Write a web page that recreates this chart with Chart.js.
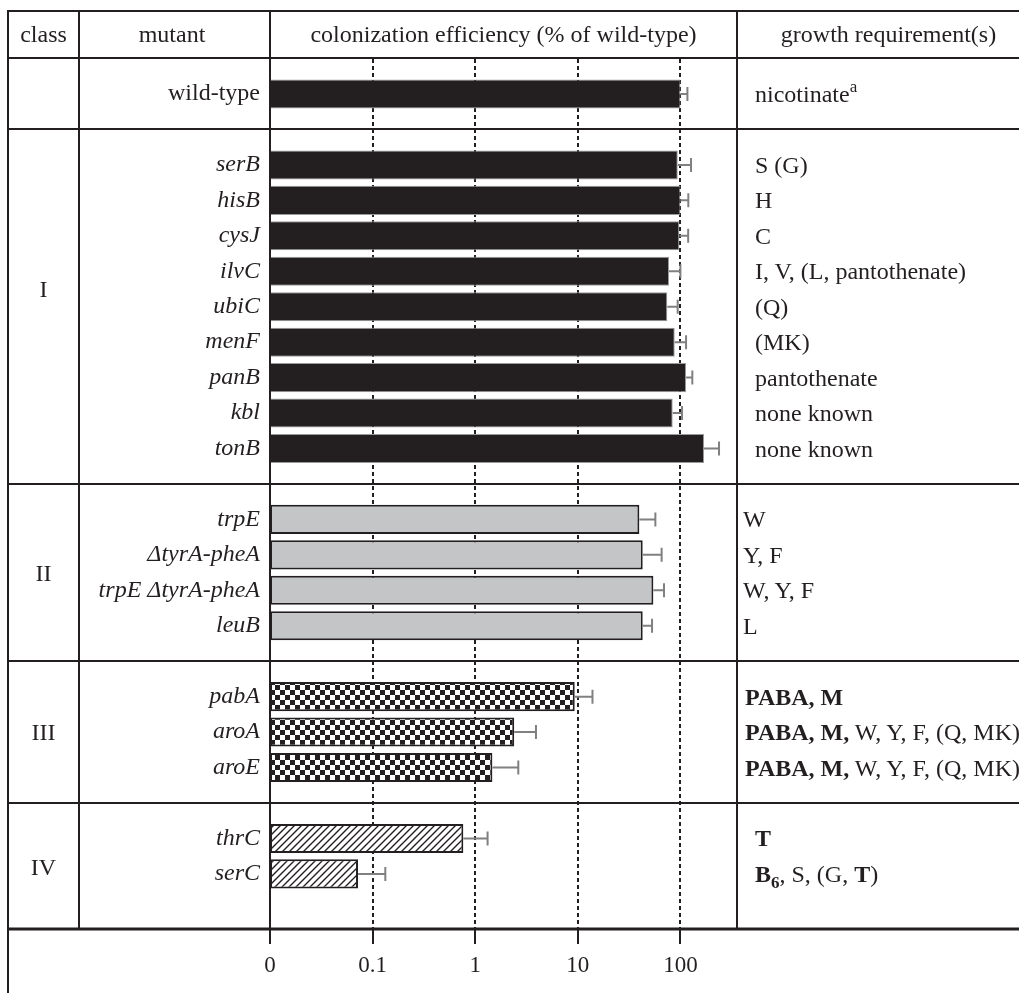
<!DOCTYPE html>
<html>
<head>
<meta charset="utf-8">
<script src="https://cdn.jsdelivr.net/npm/chart.js@4.4.1/dist/chart.umd.min.js"></script>
<style>
html,body{margin:0;padding:0;background:#fff;overflow:hidden;width:1019px;height:993px;}
#wrap{position:relative;width:1019px;height:993px;font-family:"Liberation Serif","Times New Roman",serif;color:#231f20;overflow:hidden;}
canvas{position:absolute;left:0;top:0;}
.t{position:absolute;font-size:24px;line-height:24px;white-space:nowrap;}
.t sup{font-size:17px;line-height:0;vertical-align:10px;}
.t sub{font-size:17px;line-height:0;vertical-align:-6px;}
</style>
</head>
<body>
<div id="wrap"><canvas id="c" width="1019" height="993"></canvas></div>
<script>
// ---- data ----
const mutants = ["wild-type", "", "serB", "hisB", "cysJ", "ilvC", "ubiC", "menF", "panB", "kbl", "tonB", "",
  "trpE", "\u0394tyrA-pheA", "trpE \u0394tyrA-pheA", "leuB", "", "pabA", "aroA", "aroE", "", "thrC", "serC"];
const mutantClass = ["wt", "", "I", "I", "I", "I", "I", "I", "I", "I", "I", "",
  "II", "II", "II", "II", "", "III", "III", "III", "", "IV", "IV"];
const efficiency = [100, null, 94.2, 100, 97.6, 77.4, 74.5, 88, 113.5, 84.1, 169.8, null,
  39.8, 42.9, 54.5, 42.9, null, 9.33, 2.40, 1.47, null, 0.766, 0.0721];
const errorUpper = [117, null, 126.9, 119.4, 119, 100, 94, 113.5, 130.6, 103.7, 237.9, null,
  57, 65.6, 69.2, 52.9, null, 13.9, 3.91, 2.63, null, 1.32, 0.133];
const growth = ["nicotinate<sup>a</sup>", "", "S (G)", "H", "C", "I, V, (L, pantothenate)", "(Q)", "(MK)",
  "pantothenate", "none known", "none known", "",
  "W", "Y, F", "W, Y, F", "L", "",
  "<b>PABA, M</b>", "<b>PABA, M,</b> W, Y, F, (Q, MK)", "<b>PABA, M,</b> W, Y, F, (Q, MK)", "",
  "<b>T</b>", "<b>B<sub>6</sub></b>, S, (G, <b>T</b>)"];
const classNames = ["I", "II", "III", "IV"];
const headers = ["class", "mutant", "colonization efficiency (% of wild-type)", "growth requirement(s)"];
const tickValues = [0.01, 0.1, 1, 10, 100];
const tickLabels = ["0", "0.1", "1", "10", "100"];
const gridValues = [0.1, 1, 10, 100];

// ---- styles ----
const INK = '#231f20';
const FONT = '"Liberation Serif","Times New Roman",serif';
function checker() {
  const c = document.createElement('canvas'); c.width = c.height = 10;
  const g = c.getContext('2d');
  g.fillStyle = '#fff'; g.fillRect(0, 0, 10, 10);
  g.fillStyle = INK; g.fillRect(0, 0, 5, 5); g.fillRect(5, 5, 5, 5);
  return g.createPattern(c, 'repeat');
}
function hatch() {
  const s = 7; const c = document.createElement('canvas'); c.width = c.height = s;
  const g = c.getContext('2d');
  g.fillStyle = '#fff'; g.fillRect(0, 0, s, s);
  g.strokeStyle = INK; g.lineWidth = 1.4; g.beginPath();
  g.moveTo(0, s); g.lineTo(s, 0);
  g.moveTo(-1, 1); g.lineTo(1, -1);
  g.moveTo(s - 1, s + 1); g.lineTo(s + 1, s - 1);
  g.stroke();
  return g.createPattern(c, 'repeat');
}
const fills = { wt: INK, I: INK, II: '#c4c5c7', III: checker(), IV: hatch(), "": 'rgba(0,0,0,0)' };
const borders = { wt: '#9a9a9a', I: '#9a9a9a', II: INK, III: INK, IV: INK, "": 'rgba(0,0,0,0)' };
const borderW = { wt: 1, I: 1, II: 2, III: 2, IV: 2, "": 0 };
const growthX = { wt: 755, I: 755, II: 743, III: 745, IV: 755 };
const classLabelRow = [5.5, 13.5, 18, 21.8];

const X_MIN = 0.01, X_MAX = 356;

const tablePlugin = {
  id: 'table',
  beforeDatasetsDraw(chart) {
    const { ctx, scales: { x } } = chart;
    ctx.save();
    ctx.strokeStyle = INK; ctx.lineWidth = 2; ctx.setLineDash([4, 3]);
    gridValues.forEach(v => {
      const px = Math.round(x.getPixelForValue(v));
      ctx.beginPath(); ctx.moveTo(px, 59); ctx.lineTo(px, 928); ctx.stroke();
    });
    ctx.restore();
  },
  afterDatasetsDraw(chart) {
    const { ctx, scales: { x, y } } = chart;
    ctx.save();
    ctx.strokeStyle = '#808080'; ctx.lineWidth = 2;
    efficiency.forEach((v, i) => {
      if (v == null) return;
      const x0 = x.getPixelForValue(v), x1 = x.getPixelForValue(errorUpper[i]);
      const py = y.getPixelForValue(i);
      ctx.beginPath();
      ctx.moveTo(x0, py); ctx.lineTo(x1, py);
      ctx.moveTo(x1, py - 7); ctx.lineTo(x1, py + 7);
      ctx.stroke();
    });
    ctx.restore();
  },
  afterDraw(chart) {
    const { ctx, scales: { x, y } } = chart;
    ctx.save();
    ctx.strokeStyle = INK; ctx.lineWidth = 2;
    const h = (yy, w) => { ctx.lineWidth = w || 2; ctx.beginPath(); ctx.moveTo(7, yy); ctx.lineTo(1019, yy); ctx.stroke(); };
    h(11); h(58);
    mutants.forEach((m, i) => { if (m === '') h(Math.round(y.getPixelForValue(i))); });
    h(929, 3);
    const v = (xx, y0, y1) => { ctx.lineWidth = 2; ctx.beginPath(); ctx.moveTo(xx, y0); ctx.lineTo(xx, y1); ctx.stroke(); };
    v(8, 10, 993); v(79, 10, 929); v(Math.round(x.left), 10, 929); v(737, 10, 929);
    ctx.restore();
  }
};

const chart = new Chart(document.getElementById('c'), {
  type: 'bar',
  data: {
    labels: mutants,
    datasets: [{
      data: efficiency,
      backgroundColor: mutantClass.map(c => fills[c]),
      borderColor: mutantClass.map(c => borders[c]),
      borderWidth: mutantClass.map(c => borderW[c]),
      borderSkipped: false,
      barPercentage: 0.82,
      categoryPercentage: 1.0
    }]
  },
  options: {
    indexAxis: 'y',
    responsive: false,
    animation: false,
    devicePixelRatio: 1,
    layout: { padding: { top: 76.3, right: 282, bottom: 19, left: 0 } },
    plugins: { legend: { display: false }, tooltip: { enabled: false } },
    scales: {
      y: {
        type: 'category',
        offset: true,
        grid: { display: false, drawTicks: false },
        border: { display: false },
        afterFit: s => { s.width = 270; },
        ticks: {
          autoSkip: false,
          padding: 10,
          color: INK,
          font: ctx => ({ family: FONT, size: 24, style: ctx.index === 0 ? 'normal' : 'italic' })
        }
      },
      x: {
        type: 'logarithmic',
        position: 'bottom',
        min: X_MIN, max: X_MAX,
        grid: { display: false, drawTicks: false },
        border: { display: false },
        ticks: { display: false },
        afterFit: s => { s.height = 37.4; }
      },
      x2: {
        type: 'logarithmic',
        position: 'bottom',
        min: X_MIN, max: X_MAX,
        grid: { display: true, drawOnChartArea: false, drawTicks: true, tickLength: 15, color: INK, lineWidth: 2 },
        border: { display: false },
        afterBuildTicks: s => { s.ticks = tickValues.map(v => ({ value: v })); },
        afterFit: s => { s.height = 45; },
        ticks: {
          autoSkip: false, maxRotation: 0, padding: 8, color: INK,
          font: { family: FONT, size: 23 },
          callback: (val, idx) => tickLabels[idx]
        }
      }
    }
  },
  plugins: [tablePlugin]
});

// ---- HTML text overlay ----
const wrap = document.getElementById('wrap');
function addText(html, left, top, width, align, extra) {
  const d = document.createElement('div');
  d.className = 't';
  d.innerHTML = html;
  d.style.left = left + 'px';
  d.style.top = top + 'px';
  if (width) { d.style.width = width + 'px'; d.style.textAlign = align || 'center'; }
  if (extra) Object.assign(d.style, extra);
  wrap.appendChild(d);
}
const yS = chart.scales.y;
const headerCols = [[8, 71], [79, 186], [270, 467], [737, 303]];
headers.forEach((t, i) => addText(t, headerCols[i][0], 22, headerCols[i][1], 'center'));
classNames.forEach((n, i) => addText(n, 8, Math.round(yS.getPixelForValue(classLabelRow[i])) - 12, 71, 'center'));
growth.forEach((g, i) => {
  if (!g) return;
  addText(g, growthX[mutantClass[i]], Math.round(yS.getPixelForValue(i)) - 12);
});
</script>
</body>
</html>
